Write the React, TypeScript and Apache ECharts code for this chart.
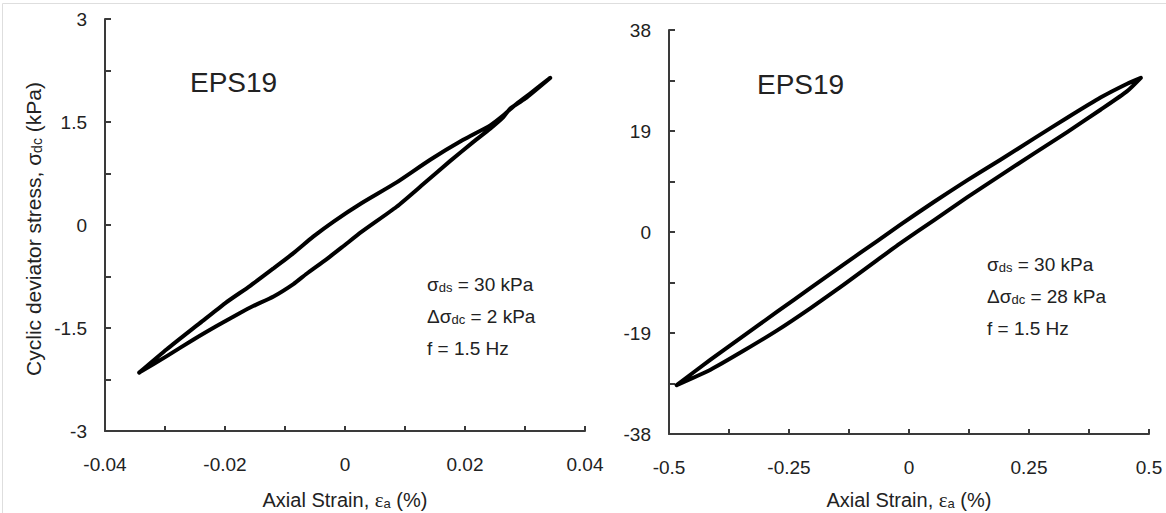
import React, { useEffect, useRef } from "react";
import * as echarts from "echarts";

// ---- Left panel (Δσdc = 2 kPa) ----
const leftUpperStrain = [-0.0343, -0.0297, -0.0242, -0.02, -0.0158, -0.0119, -0.0086, -0.0053, -0.0019, 0.0028, 0.0086, 0.0142, 0.0197, 0.0242, 0.0264, 0.0286, 0.0308, 0.0342];
const leftUpperStress = [-2.15, -1.81, -1.43, -1.14, -0.885, -0.63, -0.41, -0.17, 0.05, 0.32, 0.62, 0.95, 1.24, 1.451, 1.597, 1.766, 1.911, 2.143];
const leftLowerStrain = [0.0342, 0.03, 0.0275, 0.0264, 0.0242, 0.0214, 0.0175, 0.0131, 0.0086, 0.0028, -0.0003, -0.0031, -0.0064, -0.0086, -0.0119, -0.0153, -0.0175, -0.0214, -0.0253, -0.0297, -0.0343];
const leftLowerStress = [2.143, 1.84, 1.693, 1.572, 1.403, 1.21, 0.93, 0.6, 0.266, -0.097, -0.31, -0.5, -0.71, -0.86, -1.04, -1.18, -1.28, -1.47, -1.67, -1.91, -2.15];

// ---- Right panel (Δσdc = 28 kPa) ----
const rightUpperStrain = [-0.484, -0.4135, -0.344, -0.2746, -0.205, -0.1358, -0.0663, -0.0177, 0.0517, 0.121, 0.1906, 0.26, 0.3296, 0.399, 0.4546, 0.483];
const rightUpperStress = [-28.8, -24.0, -19.5, -15.0, -10.5, -6.1, -1.7, 1.4, 5.64, 9.72, 13.6, 17.56, 21.5, 25.3, 27.9, 29.0];
const rightLowerStrain = [0.483, 0.4546, 0.399, 0.3296, 0.26, 0.1906, 0.121, 0.0517, -0.0177, -0.0663, -0.1358, -0.205, -0.2746, -0.344, -0.4135, -0.484];
const rightLowerStress = [29.0, 26.5, 23.0, 18.8, 14.74, 10.66, 6.5, 2.2, -2.1, -5.3, -9.9, -14.3, -18.5, -22.3, -25.9, -28.8];

// ---- Tick labels ----
const leftXLabels = [-0.04, -0.02, 0, 0.02, 0.04];
const leftYLabels = [-3, -1.5, 0, 1.5, 3];
const rightXLabels = [-0.5, -0.25, 0, 0.25, 0.5];
const rightYLabels = [-38, -19, 0, 19, 38];

// ---- Texts ----
const panelTitle = "EPS19";
const leftNotes = ["{m|σ}{s|ds}{m| = 30 kPa}", "{m|Δσ}{s|dc}{m| = 2 kPa}", "{m|f = 1.5 Hz}"];
const rightNotes = ["{m|σ}{s|ds}{m| = 30 kPa}", "{m|Δσ}{s|dc}{m| = 28 kPa}", "{m|f = 1.5 Hz}"];
const xTitle = "{m|Axial Strain, }{e|ε}{s|a}{m| (%)}";
const yTitle = "{m|Cyclic deviator stress, σ}{s|dc}{m| (kPa)}";

const FONT = "Liberation Sans, Arial, sans-serif";
const TEXT = "#222";
const AXIS = "#3a3a3a";

function zip(xs: number[], ys: number[]) {
  return xs.map((x, i) => [x, ys[i]]);
}

function fmt(labels: number[]) {
  return (v: number) => {
    const hit = labels.find((l) => Math.abs(l - v) < 1e-9);
    return hit === undefined ? "" : String(hit);
  };
}

function xAxisOf(grid: number, min: number, max: number, interval: number, labels: number[]) {
  return {
    type: "value",
    gridIndex: grid,
    min,
    max,
    interval,
    axisLine: { onZero: false, lineStyle: { color: AXIS, width: 2 } },
    axisTick: { inside: true, length: 5, lineStyle: { color: AXIS, width: 2 } },
    splitLine: { show: false },
    axisLabel: { formatter: fmt(labels), fontSize: 19, color: TEXT, fontFamily: FONT, margin: 24, showMinLabel: true, showMaxLabel: true },
  };
}

function yAxisOf(grid: number, min: number, max: number, interval: number, labels: number[]) {
  return {
    type: "value",
    gridIndex: grid,
    min,
    max,
    interval,
    axisLine: { onZero: false, lineStyle: { color: AXIS, width: 2 } },
    axisTick: { inside: true, length: 6, lineStyle: { color: AXIS, width: 2 } },
    splitLine: { show: false },
    axisLabel: { formatter: fmt(labels), fontSize: 19, color: TEXT, fontFamily: FONT, margin: 18, showMinLabel: true, showMaxLabel: true },
  };
}

const richBase = {
  m: { fontSize: 19, fontFamily: FONT, fill: TEXT, lineHeight: 23, verticalAlign: "bottom" },
  s: { fontSize: 13, fontFamily: FONT, fill: TEXT, lineHeight: 10, verticalAlign: "bottom" },
};
const richTitle = {
  m: { fontSize: 20, fontFamily: FONT, fill: TEXT, lineHeight: 24, verticalAlign: "bottom" },
  e: { fontSize: 21, fontFamily: "Liberation Serif, serif", fill: TEXT, lineHeight: 24, verticalAlign: "bottom" },
  s: { fontSize: 13, fontFamily: FONT, fill: TEXT, lineHeight: 11, verticalAlign: "bottom" },
};
const richYTitle = {
  m: { fontSize: 21, fontFamily: FONT, fill: TEXT, lineHeight: 25, verticalAlign: "bottom" },
  s: { fontSize: 14, fontFamily: FONT, fill: TEXT, lineHeight: 11, verticalAlign: "bottom" },
};

function noteTexts(lines: string[], x: number, y0: number, dy: number) {
  return lines.map((t, i) => ({
    type: "text",
    x,
    y: y0 + i * dy,
    style: { text: t, rich: richBase, align: "left", verticalAlign: "middle" },
  }));
}

export default function App() {
  const ref = useRef<HTMLDivElement>(null);
  useEffect(() => {
    if (!ref.current) return;
    const chart = echarts.init(ref.current, undefined, { renderer: "svg" });
    const leftLoop = zip(leftUpperStrain, leftUpperStress).concat(zip(leftLowerStrain, leftLowerStress));
    const rightLoop = zip(rightUpperStrain, rightUpperStress).concat(zip(rightLowerStrain, rightLowerStress));
    chart.setOption({
      animation: false,
      backgroundColor: "#fff",
      grid: [
        { left: 105, top: 19, width: 480, height: 412 },
        { left: 669, top: 30, width: 480, height: 404 },
      ],
      xAxis: [xAxisOf(0, -0.04, 0.04, 0.01, leftXLabels), xAxisOf(1, -0.5, 0.5, 0.125, rightXLabels)],
      yAxis: [yAxisOf(0, -3, 3, 0.75, leftYLabels), yAxisOf(1, -38, 38, 9.5, rightYLabels)],
      series: [
        {
          type: "line",
          xAxisIndex: 0,
          yAxisIndex: 0,
          data: leftLoop,
          showSymbol: false,
          symbol: "none",
          smooth: 0.2,
          lineStyle: { color: "#000", width: 4, join: "round", cap: "round" },
        },
        {
          type: "line",
          xAxisIndex: 1,
          yAxisIndex: 1,
          data: rightLoop,
          showSymbol: false,
          symbol: "none",
          smooth: 0.2,
          lineStyle: { color: "#000", width: 4, join: "round", cap: "round" },
        },
      ],
      graphic: [
        { type: "line", shape: { x1: 2.5, y1: 3.5, x2: 1166, y2: 3.5 }, style: { stroke: "#dedede", lineWidth: 1 } },
        { type: "line", shape: { x1: 2.5, y1: 3.5, x2: 2.5, y2: 513 }, style: { stroke: "#dedede", lineWidth: 1 } },
        { type: "text", x: 190, y: 82, style: { text: panelTitle, fontSize: 28, fontFamily: FONT, fill: TEXT, align: "left", verticalAlign: "middle" } },
        { type: "text", x: 757, y: 84, style: { text: panelTitle, fontSize: 28, fontFamily: FONT, fill: TEXT, align: "left", verticalAlign: "middle" } },
        ...noteTexts(leftNotes, 427, 282, 32),
        ...noteTexts(rightNotes, 987, 262, 32),
        { type: "text", x: 345, y: 498, style: { text: xTitle, rich: richTitle, align: "center", verticalAlign: "middle" } },
        { type: "text", x: 909, y: 498, style: { text: xTitle, rich: richTitle, align: "center", verticalAlign: "middle" } },
        { type: "text", x: 31, y: 229, rotation: Math.PI / 2, style: { text: yTitle, rich: richYTitle, align: "center", verticalAlign: "middle" } },
      ],
    });
    return () => chart.dispose();
  }, []);
  return <div ref={ref} style={{ position: "absolute", left: 0, top: 0, width: 1166, height: 513 }} />;
}
